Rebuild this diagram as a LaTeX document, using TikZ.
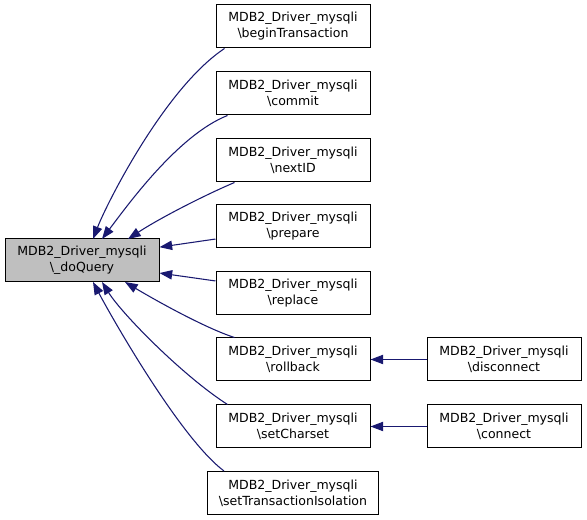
\documentclass[tikz,border=0pt]{standalone}
\usepackage{fontspec}
\setmainfont{DejaVu Sans}
\usetikzlibrary{arrows.meta}
\definecolor{edgeblue}{HTML}{191970}
\definecolor{mainfill}{HTML}{BFBFBF}
\tikzset{
  fbox/.style={draw=black, line width=0.75pt, minimum width=115.5pt, minimum height=32.25pt,
    inner sep=0pt, align=center, font=\fontsize{9.4}{12}\selectfont},
  mainbox/.style={fbox, fill=mainfill},
  callarrow/.style={draw=edgeblue, line width=0.8pt, -{Triangle[length=9.5pt,width=7pt]}}
}
\begin{document}
\begin{tikzpicture}[x=0.75pt,y=-0.75pt]
\useasboundingbox (0,0) rectangle (587,520);
\node[mainbox] (main) at (82,260.5) {MDB2\_Driver\_mysqli\\\textbackslash \_doQuery};
\node[fbox] (bt) at (293,26.5) {MDB2\_Driver\_mysqli\\\textbackslash beginTransaction};
\node[fbox] (cm) at (293,93.5) {MDB2\_Driver\_mysqli\\\textbackslash commit};
\node[fbox] (nx) at (293,160.5) {MDB2\_Driver\_mysqli\\\textbackslash nextID};
\node[fbox] (pr) at (293,226.5) {MDB2\_Driver\_mysqli\\\textbackslash prepare};
\node[fbox] (rp) at (293,293.5) {MDB2\_Driver\_mysqli\\\textbackslash replace};
\node[fbox] (rb) at (293,359.5) {MDB2\_Driver\_mysqli\\\textbackslash rollback};
\node[fbox] (sc) at (293,426.5) {MDB2\_Driver\_mysqli\\\textbackslash setCharset};
\node[fbox, minimum width=128.25pt] (sti) at (293,493) {MDB2\_Driver\_mysqli\\\textbackslash setTransactionIsolation};
\node[fbox] (dc) at (504,359.5) {MDB2\_Driver\_mysqli\\\textbackslash disconnect};
\node[fbox] (cn) at (504,426.5) {MDB2\_Driver\_mysqli\\\textbackslash connect};

\coordinate (t1) at (93,239);
\coordinate (t2) at (102,239);
\coordinate (t3) at (128,239);
\coordinate (b1) at (93,282);
\coordinate (b2) at (102,282);
\coordinate (b3) at (125,282);

\draw[callarrow] ([xshift=6.75pt]bt.south west) .. controls (165,88) and (107,203) .. (t1);
\draw[callarrow] ([xshift=9pt]cm.south west) .. controls (178,135) and (127,206) .. (t2);
\draw[callarrow] ([xshift=14.25pt]nx.south west) .. controls (205,195) and (160,218) .. (t3);
\draw[callarrow] ([yshift=-9.4pt]pr.west) -- ([yshift=10pt]main.east);
\draw[callarrow] ([yshift=9.4pt]rp.west) -- ([yshift=-9.4pt]main.east);
\draw[callarrow] ([xshift=14.25pt]rb.north west) .. controls (205,328) and (155,300) .. (b3);
\draw[callarrow] ([xshift=9pt]sc.north west) .. controls (183,376) and (122,314) .. (b2);
\draw[callarrow] ([xshift=12.75pt]sti.north west) .. controls (180,438) and (111,316) .. (b1);
\draw[callarrow] (dc) -- (rb);
\draw[callarrow] (cn) -- (sc);
\end{tikzpicture}
\end{document}
